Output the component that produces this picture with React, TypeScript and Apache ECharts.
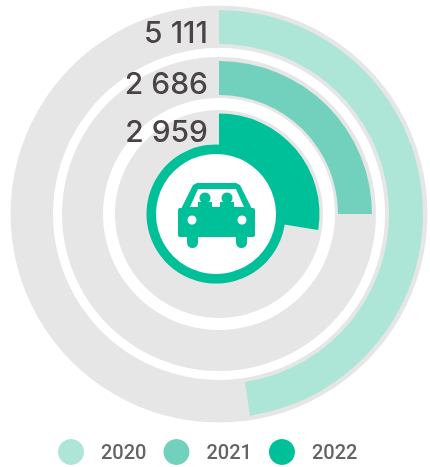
import React, { useEffect, useRef } from "react";
import * as echarts from "echarts";

const years = ["2020", "2021", "2022"];
const values = [5111, 2686, 2959];
const labels = ["5 111", "2 686", "2 959"];
const colors = ["#ade6d7", "#72d1bc", "#00c09a"];
const fullScale = 10744;

const cx = 219;
const cy = 214;
const grayRadii = [[166, 208.5], [116, 157], [64, 104]];
const barRadii = [[170, 204], [119, 153], [66, 100.5]];
const labelY = [32, 83, 131];
const green = "#00c09a";

export default function App() {
  const ref = useRef<HTMLDivElement>(null);
  useEffect(() => {
    const chart = echarts.init(ref.current!, undefined, { renderer: "svg" });
    const series: any[] = [];
    years.forEach((y, i) => {
      series.push({
        type: "pie",
        silent: true,
        center: [cx, cy],
        radius: grayRadii[i],
        label: { show: false },
        itemStyle: { color: "#e6e6e6" },
        data: [{ value: fullScale, name: "track" + y }],
      });
    });
    years.forEach((y, i) => {
      series.push({
        type: "pie",
        silent: true,
        center: [cx, cy],
        radius: barRadii[i],
        startAngle: 90,
        clockwise: true,
        label: { show: false },
        labelLine: { show: false },
        data: [
          { value: values[i], name: y, itemStyle: { color: colors[i] } },
          { value: fullScale - values[i], name: "rest" + y, itemStyle: { color: "transparent" } },
        ],
      });
    });
    chart.setOption({
      animation: false,
      color: colors,
      legend: {
        data: years,
        left: 53,
        top: 434,
        icon: "circle",
        itemWidth: 26,
        itemHeight: 26,
        itemGap: 17,
        selectedMode: false,
        textStyle: { fontFamily: "Roboto", fontSize: 20, fontWeight: 500, color: "#646464", padding: [0, 0, 0, 12] },
      },
      series,
      graphic: [
        ...labels.map((t, i) => ({
          type: "text",
          x: 208,
          y: labelY[i],
          z: 10,
          style: { text: t, fill: "#4a4444", font: "500 30px Inter", textAlign: "right", textVerticalAlign: "middle" },
        })),
        { type: "circle", z: 10, shape: { cx: 216, cy: 214, r: 69.5 }, style: { fill: green } },
        { type: "circle", z: 11, shape: { cx: 216, cy: 214, r: 60 }, style: { fill: "#ffffff" } },
        { type: "rect", z: 12, shape: { x: 178, y: 208, width: 77, height: 29, r: 2 }, style: { fill: green } },
        { type: "polygon", z: 12, shape: { points: [[181, 209], [193, 185], [197, 183], [236, 183], [240, 185], [252, 209]] }, style: { fill: green } },
        { type: "rect", z: 12, shape: { x: 187, y: 230, width: 11, height: 18, r: 5.5 }, style: { fill: green } },
        { type: "rect", z: 12, shape: { x: 236, y: 230, width: 11, height: 18, r: 5.5 }, style: { fill: green } },
        { type: "polygon", z: 13, shape: { points: [[190, 207], [198, 189], [236, 189], [244, 207]] }, style: { fill: "#ffffff" } },
        { type: "circle", z: 14, shape: { cx: 205, cy: 198, r: 5.5 }, style: { fill: green } },
        { type: "circle", z: 14, shape: { cx: 227, cy: 198, r: 5.5 }, style: { fill: green } },
        { type: "rect", z: 14, shape: { x: 198, y: 202, width: 14, height: 9 }, style: { fill: green } },
        { type: "rect", z: 14, shape: { x: 220, y: 202, width: 14, height: 9 }, style: { fill: green } },
        { type: "circle", z: 14, shape: { cx: 192, cy: 220, r: 4.5 }, style: { fill: "#ffffff" } },
        { type: "circle", z: 14, shape: { cx: 242, cy: 220, r: 4.5 }, style: { fill: "#ffffff" } },
      ],
    });
    return () => chart.dispose();
  }, []);
  return <div ref={ref} style={{ position: "fixed", left: 0, top: 0, width: 430, height: 467 }} />;
}
